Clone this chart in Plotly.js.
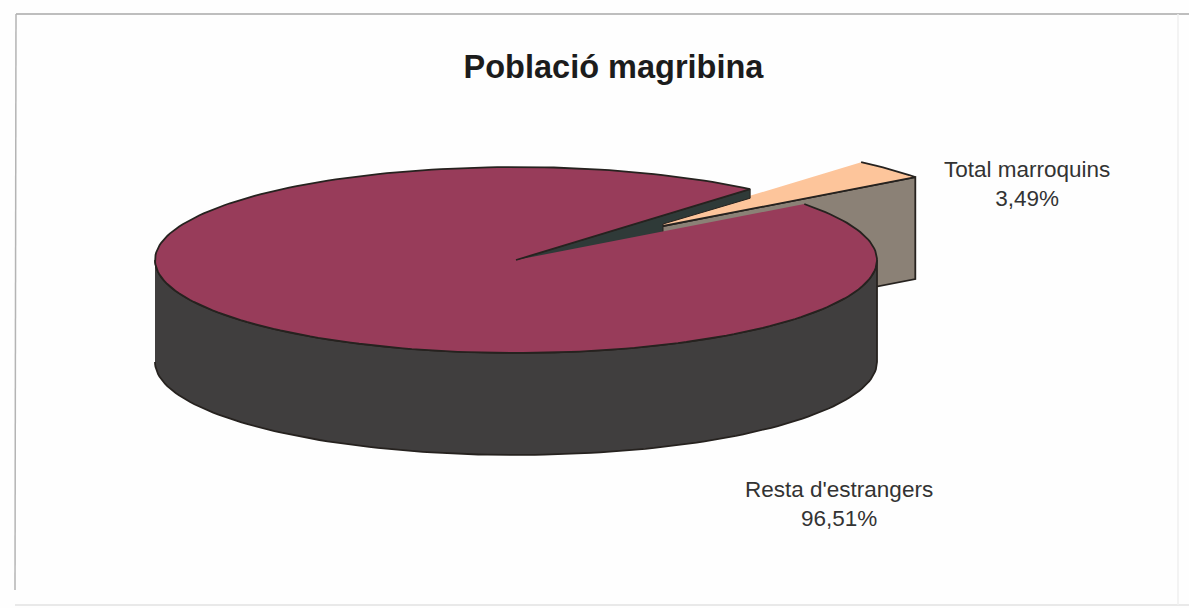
<!DOCTYPE html>
<html>
<head>
<meta charset="utf-8">
<script src="https://cdn.plot.ly/plotly-3.0.1.min.js"></script>
<style>html,body{margin:0;padding:0;background:#fff}#c{width:1189px;height:608px}</style>
</head>
<body>
<div id="c"></div>
<script>
const categories = ["Total marroquins", "Resta d'estrangers"];
const shares = [3.49, 96.51];
const chartTitle = "Població magribina";

const sliceColors = ["#fdc59b", "#983c5a"];
const wallColors = ["#8b8176", "#403e3e"];
const cutColor = "#2f3a38";
const lineColor = "#26221f";

const cx = 516, cy = 260, rx = 361, ry = 93, depth = 102;
const startDeg = 37;
const explode = [111, -27];

const total = shares[0] + shares[1];
const sweep = shares[0] / total * 360;
function pt(deg, ox, oy, dy) {
  const t = deg * Math.PI / 180;
  return [cx + ox + rx * Math.cos(t), cy + oy + dy - ry * Math.sin(t)];
}
function arc(a, b, ox, oy, dy) {
  const n = Math.max(2, Math.round(Math.abs(b - a) / 1.5));
  const out = [];
  for (let i = 0; i <= n; i++) out.push(pt(a + (b - a) * i / n, ox, oy, dy));
  return out;
}
function poly(points, fill, width) {
  return {
    type: "scatter", mode: "lines", hoverinfo: "skip", showlegend: false,
    x: points.map(p => p[0]), y: points.map(p => p[1]),
    fill: "toself", fillcolor: fill,
    line: {color: lineColor, width: width === undefined ? 1.8 : width}
  };
}
const a0 = startDeg, a1 = startDeg + sweep;
const [ex, ey] = explode;
const apex = [cx + ex, cy + ey];

const smallWall = [apex].concat([pt(a0, ex, ey, 0), pt(a0, ex, ey, depth), [apex[0], apex[1] + depth]]);
const smallTop = [apex].concat(arc(a0, a1, ex, ey, 0));
const cutWall = [[cx, cy], pt(a1, 0, 0, 0), pt(a1, 0, 0, 9), [663, 224], [663, 233], [cx, cy + 2]];
const bigWall = arc(180, 360, 0, 0, 0).concat(arc(360, 180, 0, 0, depth));
const bigTop = [[cx, cy]].concat(arc(a1, a0 + 360, 0, 0, 0));

const traces = [
  poly(smallWall, wallColors[0]),
  poly(smallTop, sliceColors[0]),
  poly(cutWall, cutColor, 1),
  poly(bigWall, wallColors[1]),
  poly(bigTop, sliceColors[1])
];

function pct(v) { return v.toFixed(2).replace(".", ",") + "%"; }

const layout = {
  width: 1189, height: 608,
  margin: {l: 0, r: 0, t: 0, b: 0},
  paper_bgcolor: "#fefefe", plot_bgcolor: "#fefefe",
  showlegend: false,
  title: {
    text: "<b>" + chartTitle + "</b>",
    x: 613.5 / 1189, xanchor: "center", xref: "paper",
    y: 1 - 67 / 608, yanchor: "middle", yref: "container",
    font: {family: "Liberation Sans, Arial, sans-serif", size: 32.5, color: "#1c1c1c"}
  },
  xaxis: {range: [0, 1189], visible: false, fixedrange: true},
  yaxis: {range: [608, 0], visible: false, fixedrange: true},
  annotations: [
    {x: 1027, y: 184, text: categories[0] + "<br>" + pct(shares[0])},
    {x: 839, y: 504, text: categories[1] + "<br>" + pct(shares[1])}
  ].map(a => Object.assign(a, {
    xref: "x", yref: "y", showarrow: false, align: "center",
    xanchor: "center", yanchor: "middle",
    font: {family: "Liberation Sans, Arial, sans-serif", size: 22.5, color: "#333"}
  })),
  shapes: [
    {x0: 16, x1: 1189, y0: 14, y1: 14, c: "#a8a8a8"},
    {x0: 16, x1: 15, y0: 14, y1: 590, c: "#b4b4b4"},
    {x0: 15, x1: 1189, y0: 605, y1: 605, c: "#e2e2e2"},
    {x0: 1178, x1: 1178, y0: 14, y1: 605, c: "#efefef"}
  ].map(s => ({
    type: "line", xref: "x", yref: "y",
    x0: s.x0, x1: s.x1, y0: s.y0, y1: s.y1,
    line: {color: s.c, width: 1.5}
  }))
};
Plotly.newPlot("c", traces, layout, {displayModeBar: false, staticPlot: true});
</script>
</body>
</html>
